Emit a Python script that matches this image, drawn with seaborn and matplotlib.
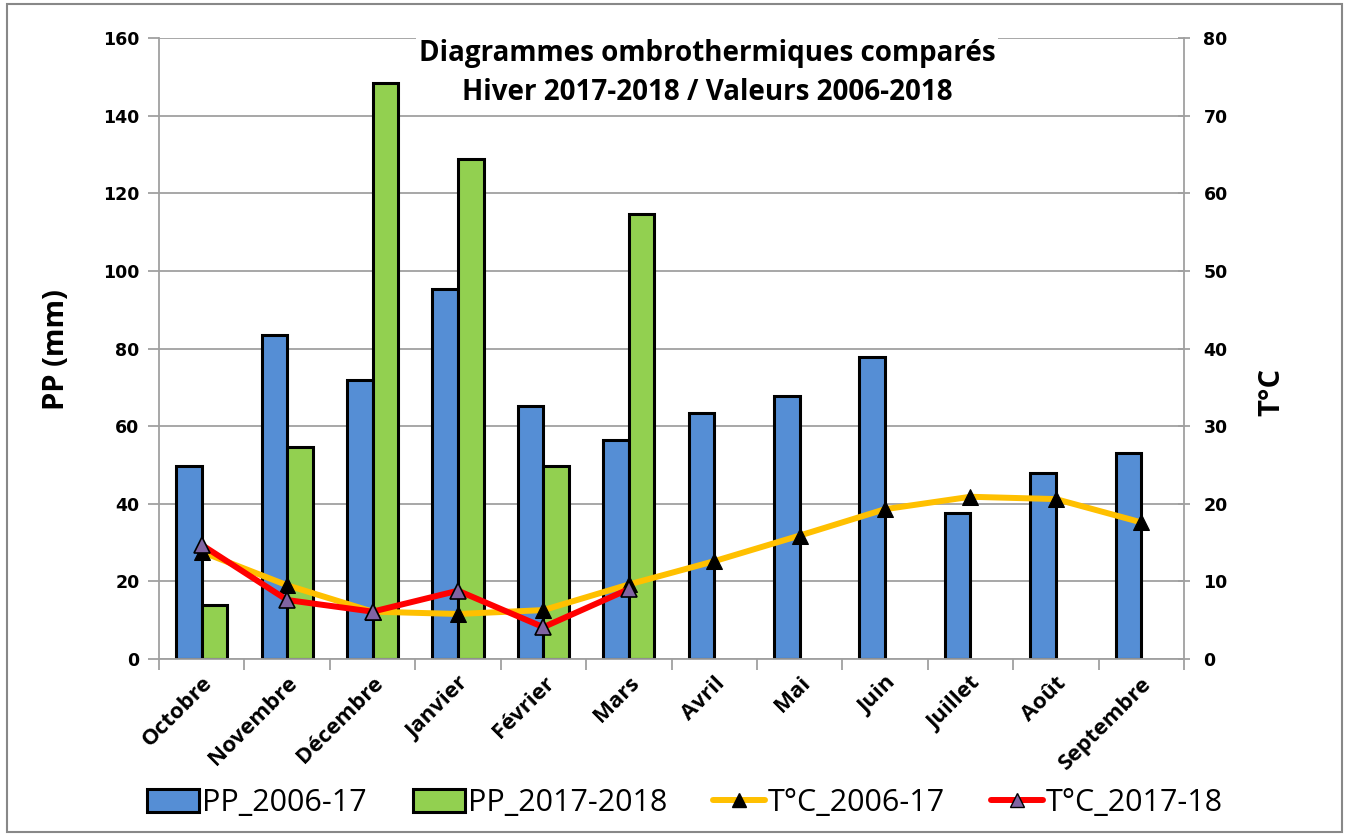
import numpy as np
import pandas as pd
import seaborn as sns
import matplotlib.pyplot as plt
from matplotlib.patches import Patch, Rectangle
from matplotlib.lines import Line2D

# ------------------------ Data ------------------------
months = ['Octobre', 'Novembre', 'Décembre', 'Janvier', 'Février', 'Mars',
          'Avril', 'Mai', 'Juin', 'Juillet', 'Août', 'Septembre']
pp_2006_17 = [49.7, 83.6, 71.9, 95.3, 65.2, 56.5, 63.5, 67.8, 77.8, 37.5, 47.8, 53.2]
pp_2017_18 = [13.9, 54.5, 148.3, 128.9, 49.8, 114.7]
t_2006_17 = [13.8, 9.5, 6.1, 5.8, 6.3, 9.6, 12.6, 15.9, 19.3, 20.9, 20.6, 17.6]
t_2017_18 = [14.7, 7.6, 6.1, 8.8, 4.1, 9.0]

# ------------------------ Styling ------------------------
sns.set_theme(style='white')
plt.rcParams['font.family'] = ['Open Sans', 'DejaVu Sans']
plt.rcParams.update({'text.color': 'black', 'axes.labelcolor': 'black',
                     'xtick.color': 'black', 'ytick.color': 'black'})
grey = '#A0A0A0'

pp = pd.DataFrame({
    'mois': months + months[:len(pp_2017_18)],
    'pp': pp_2006_17 + pp_2017_18,
    'serie': ['PP_2006-17'] * len(pp_2006_17) + ['PP_2017-2018'] * len(pp_2017_18),
})
temp_a = pd.DataFrame({'pos': np.arange(len(t_2006_17)), 't': t_2006_17})
temp_b = pd.DataFrame({'pos': np.arange(len(t_2017_18)), 't': t_2017_18})

fig = plt.figure(figsize=(13.47, 8.36), dpi=100)
ax = fig.add_axes([159 / 1347, 1 - 659 / 836, 1025 / 1347, 621 / 836])

# ------------------------ Bars ------------------------
sns.barplot(data=pp, x='mois', y='pp', hue='serie', order=months,
            palette=['#558ED5', '#92D050'], saturation=1, width=0.6, gap=0,
            edgecolor='black', linewidth=2.2, errorbar=None, legend=False, ax=ax)
ax.set_ylim(0, 160)
ax.set_yticks(np.arange(0, 161, 20))
ax.set_xlim(-0.5, len(months) - 0.5)
ax.set_xlabel('')
ax.set_ylabel('')
ax.set_axisbelow(True)
ax.yaxis.grid(True, color=grey, lw=1.3)
for side in ['left', 'bottom']:
    ax.spines[side].set_color(grey)
    ax.spines[side].set_linewidth(1.3)
ax.spines['top'].set_visible(False)
ax.spines['right'].set_visible(False)

ax.set_xticks(np.arange(-0.5, len(months)), minor=True)
ax.tick_params(axis='x', which='major', length=0, pad=10)
ax.tick_params(axis='x', which='minor', length=8, color=grey, width=1.3, direction='out', bottom=True)
ax.tick_params(axis='y', length=8, color=grey, width=1.3, direction='out', left=True, pad=6)
for lbl in ax.get_yticklabels():
    lbl.set_fontfamily('DejaVu Sans')
    lbl.set_fontweight('bold')
    lbl.set_fontsize(12.5)
ax.set_xticks(np.arange(len(months)))
ax.set_xticklabels(months, rotation=45, ha='right', rotation_mode='anchor',
                   fontsize=16, fontweight='bold')

# ------------------------ Temperature lines ------------------------
ax2 = ax.twinx()
sns.lineplot(data=temp_a, x='pos', y='t', color='#FFC000', lw=4.3, marker='^',
             markersize=11, markerfacecolor='black', markeredgecolor='black', ax=ax2)
sns.lineplot(data=temp_b, x='pos', y='t', color='#FF0000', lw=4.3, marker='^',
             markersize=11, markerfacecolor='#8064A2', markeredgecolor='black',
             markeredgewidth=1.2, ax=ax2)
ax2.set_ylim(0, 80)
ax2.set_yticks(np.arange(0, 81, 10))
ax2.set_xlim(-0.5, len(months) - 0.5)
ax2.set_xlabel('')
ax2.set_ylabel('')
ax2.grid(False)
for side in ['left', 'top', 'bottom']:
    ax2.spines[side].set_visible(False)
ax2.spines['right'].set_color(grey)
ax2.spines['right'].set_linewidth(1.3)
ax2.tick_params(axis='y', length=8, color=grey, width=1.3, direction='inout', right=True, pad=10)
for lbl in ax2.get_yticklabels():
    lbl.set_fontfamily('DejaVu Sans')
    lbl.set_fontweight('bold')
    lbl.set_fontsize(12.5)

# ------------------------ Texts ------------------------
ax.text(0.535, 0.944, 'Diagrammes ombrothermiques comparés\nHiver 2017-2018 / Valeurs 2006-2018',
        transform=ax.transAxes, ha='center', va='center', fontsize=20, fontweight='bold',
        linespacing=1.45, zorder=5,
        bbox=dict(facecolor='white', edgecolor='none', pad=2))
fig.text(57 / 1347, 1 - 350 / 836, 'PP (mm)', rotation=90, ha='center', va='center',
         fontsize=21, fontweight='bold')
fig.text(1272 / 1347, 1 - 392 / 836, 'T°C', rotation=90, ha='center', va='center',
         fontsize=21, fontweight='bold')

# ------------------------ Legend ------------------------
handles = [
    Patch(facecolor='#558ED5', edgecolor='black', lw=2.2, label='PP_2006-17'),
    Patch(facecolor='#92D050', edgecolor='black', lw=2.2, label='PP_2017-2018'),
    Line2D([], [], color='#FFC000', lw=4.3, marker='^', markersize=10,
           markerfacecolor='black', markeredgecolor='black', label='T°C_2006-17'),
    Line2D([], [], color='#FF0000', lw=4.3, marker='^', markersize=10,
           markerfacecolor='#8064A2', markeredgecolor='black', label='T°C_2017-18'),
]
fig.legend(handles=handles, loc='center', bbox_to_anchor=(685 / 1347, 1 - 803 / 836), ncol=4,
           frameon=False, fontsize=22, handlelength=1.7, handleheight=0.8,
           handletextpad=0.1, columnspacing=1.5)

fig.add_artist(Rectangle((7 / 1347, 4 / 836), 1335 / 1347, 828 / 836, transform=fig.transFigure,
                         fill=False, edgecolor='#888888', lw=1.5))

plt.savefig('out.png', dpi=100)
